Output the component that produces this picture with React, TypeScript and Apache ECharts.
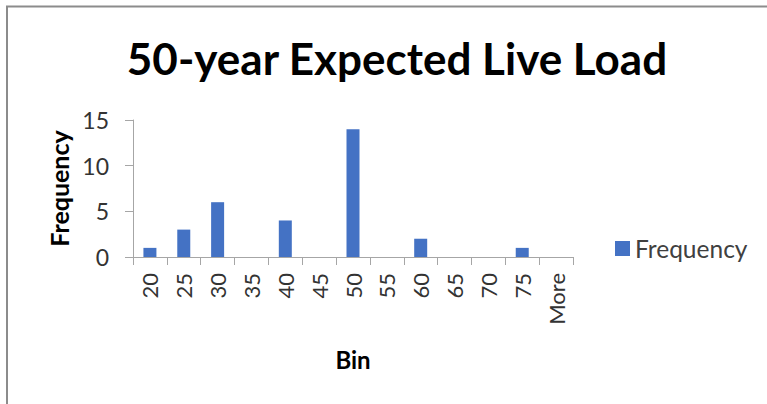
import React, { useEffect, useRef } from "react";
import * as echarts from "echarts";

const categories = ["20", "25", "30", "35", "40", "45", "50", "55", "60", "65", "70", "75", "More"];
const frequency = [1, 3, 6, 0, 4, 0, 14, 0, 2, 0, 0, 1, 0];
const yTicks = { min: 0, max: 15, interval: 5 };

const FONT = "Lato, 'Open Sans', sans-serif";

export default function App() {
  const ref = useRef<HTMLDivElement>(null);
  useEffect(() => {
    if (!ref.current) return;
    const chart = echarts.init(ref.current, undefined, { renderer: "svg" });
    chart.setOption({
      animation: false,
      backgroundColor: "#ffffff",
      textStyle: { fontFamily: FONT },
      title: {
        text: "50-year Expected Live Load",
        left: "392",
        textAlign: "center",
        top: 31,
        textStyle: { fontSize: 44, fontWeight: "bold", color: "#000000", fontFamily: FONT },
      },
      legend: {
        data: ["Frequency"],
        left: 610,
        top: 231,
        itemWidth: 15,
        itemHeight: 15,
        itemGap: 8,
        icon: "rect",
        textStyle: { fontSize: 24.5, color: "#404040", fontFamily: FONT },
      },
      grid: { left: 133, top: 120, width: 440, height: 137, containLabel: false },
      xAxis: {
        type: "category",
        data: categories,
        name: "Bin",
        nameLocation: "middle",
        nameGap: 90,
        nameTextStyle: { fontSize: 24, fontWeight: "bold", color: "#000000" },
        axisLine: { show: true, lineStyle: { color: "#a6a6a6", width: 1 } },
        axisTick: { show: true, length: 8, lineStyle: { color: "#a6a6a6" } },
        axisLabel: { rotate: 90, margin: 16, fontSize: 22, color: "#333333", interval: 0 },
      },
      yAxis: {
        type: "value",
        min: yTicks.min,
        max: yTicks.max,
        interval: yTicks.interval,
        name: "Frequency",
        nameLocation: "middle",
        nameRotate: 90,
        nameGap: 58,
        nameTextStyle: { fontSize: 25, fontWeight: "bold", color: "#000000" },
        axisLine: { show: true, lineStyle: { color: "#a6a6a6", width: 1 } },
        axisTick: { show: true, length: 8, lineStyle: { color: "#a6a6a6" } },
        axisLabel: { margin: 24, fontSize: 23, color: "#333333" },
        splitLine: { show: false },
      },
      series: [
        {
          name: "Frequency",
          type: "bar",
          data: frequency,
          barWidth: 13,
          itemStyle: { color: "#4472c4" },
        },
      ],
      graphic: [
        {
          type: "polyline",
          shape: { points: [[7, 404], [7, 6.5], [767, 6.5]] },
          style: { stroke: "#8c8c8c", lineWidth: 2, fill: "none" },
        },
      ],
    });
    return () => chart.dispose();
  }, []);
  return (
    <div
      ref={ref}
      style={{ position: "fixed", left: 0, top: 0, width: 767, height: 404 }}
    />
  );
}
